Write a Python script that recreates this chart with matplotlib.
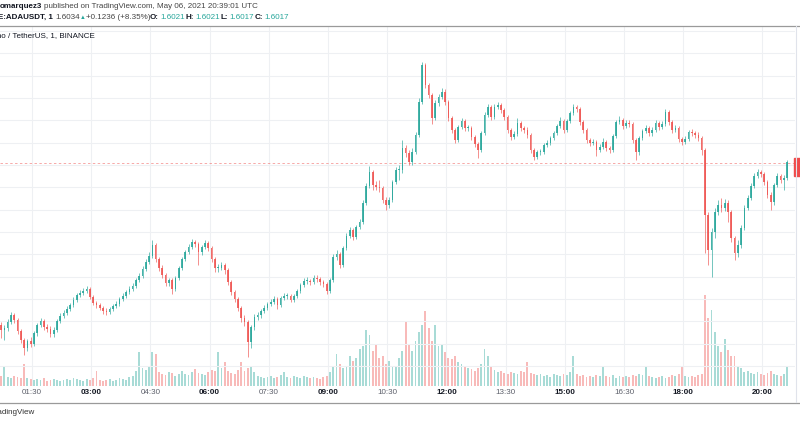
import matplotlib.pyplot as plt
import numpy as np
from matplotlib.lines import Line2D
from matplotlib.patches import Rectangle

# BINANCE:ADAUSDT, 6 May 2021, read off the chart and grouped into 5-minute candles
# prices in thousandths of USDT
first_open_k = 1441
close_k = [1436, 1438, 1444, 1451, 1446, 1435, 1426, 1418, 1425, 1422,
           1433, 1441, 1445, 1439, 1437, 1432, 1436, 1445, 1450, 1453,
           1457, 1461, 1466, 1471, 1473, 1475, 1477, 1469, 1463, 1461,
           1458, 1455, 1454, 1457, 1460, 1462, 1467, 1470, 1474, 1477,
           1480, 1486, 1490, 1497, 1504, 1510, 1521, 1507, 1498, 1491,
           1483, 1486, 1477, 1488, 1498, 1507, 1514, 1519, 1524, 1522,
           1514, 1519, 1523, 1518, 1507, 1498, 1498, 1501, 1496, 1484,
           1474, 1467, 1458, 1448, 1444, 1424, 1439, 1449, 1451, 1455,
           1458, 1462, 1464, 1467, 1461, 1468, 1470, 1470, 1466, 1470,
           1475, 1481, 1485, 1485, 1484, 1488, 1487, 1484, 1482, 1475,
           1486, 1509, 1512, 1501, 1518, 1530, 1536, 1529, 1539, 1544,
           1563, 1580, 1594, 1581, 1579, 1578, 1566, 1561, 1566, 1584,
           1596, 1596, 1618, 1613, 1604, 1614, 1631, 1664, 1701, 1681,
           1671, 1648, 1663, 1669, 1674, 1664, 1648, 1636, 1626, 1639,
           1645, 1638, 1638, 1629, 1622, 1616, 1633, 1651, 1659, 1649,
           1659, 1661, 1656, 1649, 1636, 1629, 1632, 1643, 1638, 1636,
           1631, 1616, 1609, 1614, 1614, 1621, 1623, 1628, 1633, 1640,
           1645, 1636, 1645, 1653, 1659, 1657, 1644, 1636, 1626, 1623,
           1624, 1616, 1619, 1624, 1618, 1616, 1630, 1644, 1646, 1640,
           1643, 1642, 1626, 1614, 1628, 1635, 1638, 1633, 1636, 1643,
           1639, 1642, 1654, 1644, 1636, 1638, 1627, 1624, 1627, 1634,
           1633, 1631, 1628, 1616, 1551, 1516, 1534, 1554, 1561, 1558,
           1563, 1554, 1528, 1513, 1521, 1538, 1558, 1568, 1580, 1590,
           1594, 1592, 1584, 1571, 1564, 1581, 1590, 1586, 1588, 1604]
high_k = [1444, 1441, 1447, 1454, 1453, 1448, 1437, 1428, 1427, 1429,
          1435, 1443, 1448, 1447, 1442, 1440, 1439, 1447, 1453, 1456,
          1460, 1463, 1469, 1473, 1476, 1478, 1480, 1479, 1471, 1465,
          1463, 1460, 1458, 1459, 1462, 1465, 1469, 1473, 1476, 1480,
          1483, 1488, 1493, 1500, 1507, 1514, 1526, 1523, 1509, 1501,
          1493, 1488, 1488, 1490, 1500, 1509, 1516, 1522, 1527, 1526,
          1524, 1521, 1526, 1525, 1520, 1509, 1502, 1504, 1503, 1498,
          1486, 1476, 1469, 1460, 1451, 1446, 1441, 1452, 1454, 1457,
          1461, 1464, 1467, 1470, 1469, 1470, 1473, 1473, 1472, 1472,
          1477, 1483, 1488, 1489, 1487, 1491, 1491, 1489, 1486, 1484,
          1488, 1512, 1516, 1514, 1520, 1533, 1539, 1538, 1541, 1547,
          1566, 1583, 1600, 1596, 1585, 1586, 1580, 1569, 1569, 1586,
          1599, 1601, 1626, 1621, 1616, 1618, 1634, 1668, 1704, 1703,
          1683, 1673, 1666, 1672, 1678, 1677, 1666, 1650, 1638, 1641,
          1648, 1647, 1641, 1640, 1631, 1624, 1635, 1654, 1662, 1661,
          1662, 1664, 1663, 1658, 1651, 1638, 1635, 1648, 1645, 1640,
          1639, 1633, 1618, 1616, 1617, 1623, 1626, 1630, 1635, 1642,
          1649, 1647, 1647, 1655, 1662, 1661, 1659, 1646, 1638, 1628,
          1627, 1626, 1622, 1628, 1626, 1620, 1632, 1646, 1650, 1648,
          1646, 1646, 1644, 1628, 1630, 1637, 1641, 1640, 1639, 1646,
          1645, 1645, 1657, 1656, 1646, 1641, 1640, 1629, 1630, 1636,
          1637, 1635, 1634, 1630, 1618, 1554, 1538, 1558, 1566, 1568,
          1567, 1566, 1556, 1530, 1526, 1541, 1561, 1571, 1583, 1593,
          1597, 1596, 1594, 1586, 1574, 1583, 1593, 1592, 1591, 1606]
low_k = [1428, 1426, 1435, 1442, 1443, 1432, 1423, 1411, 1415, 1419,
         1420, 1430, 1439, 1436, 1434, 1429, 1429, 1434, 1443, 1448,
         1451, 1455, 1459, 1464, 1469, 1471, 1473, 1467, 1461, 1458,
         1456, 1452, 1451, 1452, 1455, 1458, 1460, 1465, 1468, 1472,
         1475, 1478, 1484, 1488, 1495, 1502, 1508, 1504, 1495, 1488,
         1480, 1480, 1472, 1475, 1486, 1496, 1505, 1512, 1517, 1519,
         1501, 1511, 1517, 1515, 1504, 1494, 1494, 1496, 1492, 1481,
         1471, 1464, 1455, 1444, 1440, 1409, 1418, 1436, 1446, 1448,
         1453, 1456, 1460, 1462, 1457, 1459, 1466, 1467, 1464, 1464,
         1468, 1473, 1479, 1482, 1481, 1482, 1484, 1481, 1479, 1472,
         1473, 1484, 1506, 1498, 1499, 1516, 1528, 1526, 1527, 1537,
         1542, 1561, 1578, 1576, 1576, 1574, 1563, 1556, 1558, 1564,
         1582, 1586, 1593, 1609, 1601, 1601, 1612, 1629, 1662, 1678,
         1668, 1642, 1646, 1660, 1667, 1661, 1645, 1633, 1623, 1624,
         1637, 1635, 1635, 1626, 1619, 1608, 1614, 1631, 1649, 1646,
         1647, 1657, 1653, 1646, 1633, 1626, 1627, 1630, 1635, 1633,
         1628, 1613, 1606, 1607, 1611, 1612, 1619, 1621, 1626, 1631,
         1638, 1633, 1634, 1643, 1651, 1654, 1641, 1633, 1623, 1620,
         1621, 1610, 1614, 1617, 1615, 1613, 1614, 1628, 1642, 1637,
         1638, 1639, 1623, 1606, 1611, 1626, 1633, 1630, 1630, 1634,
         1636, 1637, 1640, 1641, 1633, 1634, 1624, 1621, 1622, 1625,
         1630, 1628, 1625, 1611, 1513, 1501, 1489, 1528, 1551, 1554,
         1555, 1544, 1524, 1506, 1509, 1518, 1536, 1556, 1566, 1578,
         1588, 1589, 1581, 1568, 1556, 1561, 1579, 1583, 1576, 1586]
# volume, thousands of ADA
volume_k = [10, 20, 9, 8, 10, 9, 8, 22, 8, 7,
            6, 7, 6, 8, 5, 6, 7, 6, 5, 6,
            7, 6, 8, 7, 6, 5, 7, 6, 8, 15,
            6, 5, 6, 7, 5, 6, 8, 7, 6, 9,
            10, 15, 34, 18, 16, 20, 34, 32, 14, 12,
            11, 14, 13, 10, 12, 15, 12, 11, 14, 17,
            13, 12, 11, 14, 16, 15, 34, 18, 24, 15,
            13, 12, 16, 24, 15, 18, 20, 14, 10, 9,
            8, 9, 10, 8, 9, 11, 14, 9, 8, 10,
            9, 8, 10, 9, 8, 9, 8, 7, 9, 10,
            14, 20, 32, 22, 18, 20, 30, 25, 28, 37,
            40, 56, 51, 35, 41, 28, 30, 22, 25, 20,
            20, 28, 35, 64, 41, 35, 45, 54, 61, 75,
            58, 45, 61, 40, 41, 34, 28, 27, 30, 24,
            22, 20, 18, 17, 15, 18, 22, 37, 30, 20,
            16, 14, 15, 13, 12, 14, 13, 12, 15, 14,
            24, 13, 12, 11, 12, 10, 11, 9, 12, 11,
            10, 12, 11, 14, 30, 12, 10, 11, 9, 10,
            9, 11, 10, 19, 10, 9, 11, 8, 10, 9,
            10, 9, 11, 10, 12, 11, 20, 10, 9, 8,
            9, 10, 8, 9, 11, 10, 12, 19, 10, 9,
            10, 9, 11, 12, 91, 68, 76, 54, 40, 34,
            47, 36, 30, 30, 20, 18, 14, 15, 13, 12,
            14, 12, 11, 13, 15, 12, 11, 10, 12, 19]
last_price = 1.6034

tick_minutes = [90, 180, 270, 360, 450, 540, 630, 720, 810, 900, 990, 1080, 1200]
tick_labels = ["01:30", "03:00", "04:30", "06:00", "07:30", "09:00", "10:30",
               "12:00", "13:30", "15:00", "16:30", "18:00", "20:00"]
bold_labels = ["03:00", "06:00", "09:00", "12:00", "15:00", "18:00", "20:00"]

UP, DOWN = "#26a69a", "#ef5350"
W, H = 800, 424


def fx(px):
    return px / W


def fy(py):
    return 1 - py / H


plt.rcParams['font.family'] = ['Liberation Sans', 'DejaVu Sans']

close = np.array(close_k) / 1000
high = np.array(high_k) / 1000
low = np.array(low_k) / 1000
opn = np.concatenate([[first_open_k / 1000], close[:-1]])
t = 43 + 5 * np.arange(len(close))
up = close >= opn
col = np.where(up, UP, DOWN)

fig = plt.figure(figsize=(8, 4.24), dpi=100)
pane = [0, fy(386), fx(795), (386 - 27) / H]
axv = fig.add_axes(pane)
ax = fig.add_axes(pane)
ax.patch.set_alpha(0)

# volume
axv.bar(t, volume_k, width=2.8, color=col, alpha=0.4, linewidth=0)
axv.set_xlim(41.35, 1249.9)
axv.set_ylim(0, 359)
axv.axis("off")

# candles
ax.vlines(t, low, high, colors=col, linewidth=0.5, alpha=0.9)
body = np.maximum(np.abs(close - opn), 0.0007)
ax.bar(t, body, bottom=np.minimum(opn, close), width=2.5, color=col, linewidth=0, alpha=0.85)
ax.set_xlim(41.35, 1249.9)
ax.set_ylim(1.380, 1.739)
ax.set_yticks(1.735 - 0.02233 * np.arange(16))
ax.set_xticks(tick_minutes)
ax.set_xticklabels(tick_labels)
ax.tick_params(axis="y", length=0, labelleft=False)
ax.tick_params(axis="x", length=0, pad=2.2, labelsize=5.8)
for lab in ax.get_xticklabels():
    if lab.get_text() in bold_labels:
        lab.set_fontweight("bold")
        lab.set_color("#131722")
    else:
        lab.set_color("#5d606b")
ax.grid(True, color="#eef0f3", linewidth=0.8, zorder=0)
ax.set_axisbelow(True)
for s in ax.spines.values():
    s.set_visible(False)
ax.axhline(last_price, color=DOWN, linewidth=0.7, linestyle=(0, (2.5, 2.5)), alpha=0.5)

# frame lines and price label
fig.add_artist(Line2D([0, 1], [fy(26), fy(26)], color="#9a9a9a", linewidth=0.9))
fig.add_artist(Line2D([0, 1], [fy(402.5), fy(402.5)], color="#9a9a9a", linewidth=0.9))
fig.add_artist(Line2D([fx(795.5), fx(795.5)], [fy(26), fy(402)], color="#e0e3eb", linewidth=0.8))
fig.add_artist(Rectangle((fx(794), fy(176)), fx(8), 18 / H, color="#ef4b4b", transform=fig.transFigure))

# header texts
fs = 5.75
fig.text(fx(42), fy(7), "omarquez3", ha="right", va="center", fontsize=fs, weight="bold", color="#131722")
fig.text(fx(44), fy(7), "published on TradingView.com, May 06, 2021 20:39:01 UTC",
         va="center", fontsize=fs, color="#444444")
row = fy(17.5)
fig.text(fx(53), row, "BINANCE:ADAUSDT, 1", ha="right", va="center", fontsize=fs, weight="bold", color="#131722")
fig.text(fx(55), row, "1.6034", va="center", fontsize=fs, color="#444444")
fig.text(fx(80), row, "▲", va="center", fontsize=fs - 1.5, color=UP)
fig.text(fx(86), row, "+0.1236 (+8.35%)", va="center", fontsize=fs, color="#444444")
for px, key in [(150, "O:"), (186, "H:"), (220, "L:"), (255, "C:")]:
    fig.text(fx(px), row, key, va="center", fontsize=fs, weight="bold", color="#131722")
vals = ["1.6021", "1.6021", "1.6017", "1.6017"]
for px, v in zip([160, 195, 229, 264], vals):
    fig.text(fx(px), row, v, va="center", fontsize=fs, color=UP)
fig.text(fx(95), fy(35.5), "Cardano / TetherUS, 1, BINANCE", ha="right", va="center",
         fontsize=fs, color="#131722")
fig.text(fx(35), fy(413), "TradingView", ha="right", va="center", fontsize=fs, color="#333333")

fig.savefig("out.png", dpi=100, facecolor="white")
